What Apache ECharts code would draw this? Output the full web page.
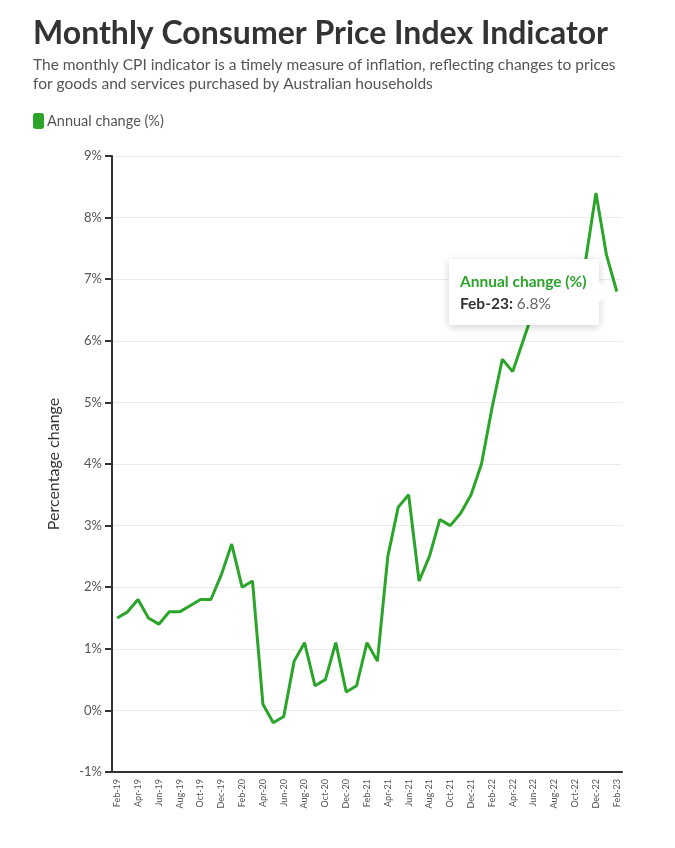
<!DOCTYPE html>
<html>
<head>
<meta charset="utf-8">
<script src="https://cdn.jsdelivr.net/npm/echarts@6/dist/echarts.min.js"></script>
<style>
html,body{margin:0;padding:0;background:#fff;}
#chart{width:675px;height:848px;}
</style>
</head>
<body>
<div id="chart"></div>
<script>
var categories = ['Feb-19','Mar-19','Apr-19','May-19','Jun-19','Jul-19','Aug-19','Sep-19','Oct-19','Nov-19','Dec-19',
'Jan-20','Feb-20','Mar-20','Apr-20','May-20','Jun-20','Jul-20','Aug-20','Sep-20','Oct-20','Nov-20','Dec-20',
'Jan-21','Feb-21','Mar-21','Apr-21','May-21','Jun-21','Jul-21','Aug-21','Sep-21','Oct-21','Nov-21','Dec-21',
'Jan-22','Feb-22','Mar-22','Apr-22','May-22','Jun-22','Jul-22','Aug-22','Sep-22','Oct-22','Nov-22','Dec-22',
'Jan-23','Feb-23'];
var annualChange = [1.5,1.6,1.8,1.5,1.4,1.6,1.6,1.7,1.8,1.8,2.2,
2.7,2.0,2.1,0.1,-0.2,-0.1,0.8,1.1,0.4,0.5,1.1,0.3,
0.4,1.1,0.8,2.5,3.3,3.5,2.1,2.5,3.1,3.0,3.2,3.5,
4.0,4.9,5.7,5.5,6.0,6.5,7.0,6.8,7.3,6.9,7.3,8.4,
7.4,6.8];
var seriesName = 'Annual change (%)';
var titleText = 'Monthly Consumer Price Index Indicator';
var subtitleText = 'The monthly CPI indicator is a timely measure of inflation, reflecting changes to prices\nfor goods and services purchased by Australian households';
var yAxisName = 'Percentage change';

var FONT = 'Lato, "Open Sans", sans-serif';
var GREEN = '#2aa52a';
var chart = echarts.init(document.getElementById('chart'));
chart.setOption({
  animation: false,
  backgroundColor: '#fff',
  textStyle: {fontFamily: FONT},
  title: [{
    text: titleText,
    left: 28, top: 13,
    textStyle: {fontFamily: FONT, fontSize: 32, fontWeight: 'bold', color: '#333'},
    subtext: subtitleText,
    itemGap: 5,
    subtextStyle: {fontFamily: FONT, fontSize: 15.5, color: '#555', lineHeight: 19}
  }],
  legend: {
    left: 28, top: 108,
    icon: 'roundRect',
    itemWidth: 11, itemHeight: 16, itemGap: 4,
    itemStyle: {color: GREEN, opacity: 1},
    textStyle: {fontFamily: FONT, fontSize: 14.5, color: '#555', padding: [0,0,0,-2]},
    data: [{name: seriesName, itemStyle: {color: GREEN, opacity: 1}}]
  },
  grid: {left: 112, right: 53, top: 156, bottom: 76, containLabel: false},
  tooltip: {
    trigger: 'item',
    triggerOn: 'none',
    alwaysShowContent: true,
    position: function (point, params, dom, rect, size) {
      return [point[0] - size.contentSize[0] - 18, point[1] - size.contentSize[1] / 2];
    },
    backgroundColor: '#fff',
    borderColor: '#fff',
    borderWidth: 0,
    padding: [11, 12, 11, 11],
    extraCssText: 'box-shadow: 0 2px 8px rgba(0,0,0,0.18); border-radius:0; overflow:visible;',
    formatter: function (p) {
      return '<div style="position:relative;font-family:Lato,sans-serif;line-height:22px">' +
        '<div style="color:' + GREEN + ';font-weight:bold;font-size:15.5px">' + p.seriesName + '</div>' +
        '<div style="font-size:15.5px;color:#666"><b style="color:#333">' + p.name + ':</b> ' + p.value + '%</div>' +
        '<div style="position:absolute;right:-23px;top:50%;margin-top:-11px;width:0;height:0;border-top:11px solid transparent;border-bottom:11px solid transparent;border-left:12px solid #fff;"></div>' +
        '</div>';
    }
  },
  xAxis: {
    type: 'category',
    data: categories,
    boundaryGap: true,
    axisLine: {onZero: false, lineStyle: {color: '#333', width: 2}},
    axisTick: {show: false},
    axisLabel: {interval: 1, rotate: 90, fontSize: 9, color: '#555', margin: 7, fontFamily: FONT},
    splitLine: {show: false}
  },
  yAxis: {
    type: 'value',
    min: -1, max: 9, interval: 1,
    name: yAxisName,
    nameLocation: 'middle',
    nameGap: 50,
    nameTextStyle: {fontSize: 16, color: '#333', fontFamily: FONT},
    axisLine: {show: true, lineStyle: {color: '#333', width: 2}},
    axisTick: {show: true, length: 7, lineStyle: {color: '#333', width: 2}},
    axisLabel: {formatter: '{value}%', fontSize: 13, color: '#555', margin: 10, fontFamily: FONT},
    splitLine: {show: true, lineStyle: {color: '#ebebeb', width: 1}}
  },
  series: [{
    name: seriesName,
    type: 'line',
    data: annualChange,
    symbol: 'circle',
    symbolSize: 2,
    showSymbol: true,
    itemStyle: {color: GREEN, opacity: 0},
    emphasis: {disabled: true},
    lineStyle: {color: GREEN, width: 3},
    z: 3
  }]
});
setTimeout(function () {
  chart.dispatchAction({type: 'showTip', seriesIndex: 0, dataIndex: annualChange.length - 1});
}, 50);
</script>
</body>
</html>
